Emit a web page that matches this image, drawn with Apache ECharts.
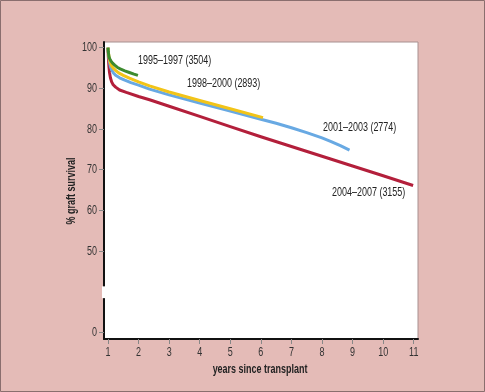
<!DOCTYPE html>
<html><head><meta charset="utf-8">
<script src="https://cdn.jsdelivr.net/npm/echarts@6/dist/echarts.min.js"></script>
<style>html,body{margin:0;padding:0;background:#e4bbb7;}#c{width:485px;height:392px;}</style>
</head><body><div id="c"></div>
<script>
// ---- data ----
const seriesNames = ['1995–1997 (3504)', '1998–2000 (2893)', '2001–2003 (2774)', '2004–2007 (3155)'];
const xTicks = [1,2,3,4,5,6,7,8,9,10,11];
const yTickLabels = [0,50,60,70,80,90,100];
const xAxisName = 'years since transplant';
const yAxisName = '% graft survival';

const greenX = [1, 1.01, 1.03, 1.06, 1.1, 1.15, 1.22, 1.3, 1.4, 1.55, 1.7, 1.85, 1.98];
const greenY = [100, 99, 97.8, 97.2, 96.7, 96.2, 95.7, 95.2, 94.8, 94.3, 93.9, 93.5, 93.2];

const yellowX = [1, 1.02, 1.05, 1.08, 1.12, 1.18, 1.25, 1.35, 1.5, 1.7, 2, 2.36, 3, 4, 5, 6.07];
const yellowY = [100, 98.5, 97, 96.2, 95.5, 94.9, 94.4, 93.8, 93.2, 92.5, 91.6, 90.6, 89.1, 87.0, 85.0, 82.8];

const blueX = [1, 1.02, 1.05, 1.08, 1.12, 1.18, 1.25, 1.38, 1.55, 1.75, 2, 2.36, 3, 4, 5, 6, 6.5, 7, 7.5, 8, 8.3, 8.6, 8.9];
const blueY = [100, 98.3, 96.5, 95.3, 94.5, 93.8, 93.2, 92.6, 92.0, 91.4, 90.8, 89.8, 88.4, 86.4, 84.4, 82.4, 81.4, 80.3, 79.1, 77.8, 76.9, 75.9, 74.8];

const redX = [1, 1.01, 1.03, 1.05, 1.08, 1.12, 1.17, 1.25, 1.38, 1.6, 2, 2.36, 3, 4, 5, 6, 7, 8, 9, 10, 10.98];
const redY = [100, 98, 95.5, 93.9, 92.6, 91.6, 90.9, 90.3, 89.6, 89.0, 88.0, 87.2, 85.6, 83.1, 80.6, 78.1, 75.7, 73.3, 70.9, 68.5, 66.1];

// broken axis: value 0 is drawn at axis position 30, values >= 50 as is
const toAxis = v => (v < 50 ? 30 + v : v);
const pairs = (xs, ys) => xs.map((x, i) => [x, toAxis(ys[i])]);

const FONT = '"Liberation Sans", Arial, sans-serif';
const SX = 0.69;
const FS = 13;
const colors = ['#3d8b2f', '#f2c418', '#68a9e3', '#b31f3b'];
const dataSets = [pairs(greenX, greenY), pairs(yellowX, yellowY), pairs(blueX, blueY), pairs(redX, redY)];

const chart = echarts.init(document.getElementById('c'), null, {renderer: 'canvas'});

const labelPos = [
  {x: 138, y: 60},
  {x: 187, y: 83},
  {x: 323, y: 127},
  {x: 332, y: 192}
];

chart.setOption({
  backgroundColor: '#e4bbb7',
  animation: false,
  grid: {left: 104, right: 67, top: 42, bottom: 53, show: true, backgroundColor: '#ffffff', borderColor: '#a89090', borderWidth: 1},
  xAxis: {
    type: 'value', min: 0.87, max: 11.14,
    axisLine: {show: true, lineStyle: {color: '#111', width: 2}},
    axisTick: {show: true, customValues: xTicks, length: 5, lineStyle: {color: '#888'}},
    axisLabel: {show: false},
    splitLine: {show: false}
  },
  yAxis: {
    type: 'value', min: 28.35, max: 101.4,
    axisLine: {show: true, lineStyle: {color: '#111', width: 2}},
    axisTick: {show: true, customValues: yTickLabels.map(toAxis), length: 5, lineStyle: {color: '#888'}},
    axisLabel: {show: false},
    splitLine: {show: false}
  },
  series: dataSets.map((d, i) => ({
    type: 'line', name: seriesNames[i], data: d, showSymbol: false, symbol: 'none',
    smooth: false,
    lineStyle: {color: colors[i], width: 3, cap: 'butt', join: 'round'}, z: 2 + (3 - i)
  }))
});

const px = (x, y) => chart.convertToPixel({gridIndex: 0}, [x, y]);
const g = [];
const txt = (x, y, text, opts) => ({
  type: 'text', x: x, y: y, scaleX: SX, z: 50,
  style: Object.assign({text: text, fontFamily: FONT, fontSize: FS, fill: '#333', align: 'center', verticalAlign: 'middle'}, opts || {})
});
xTicks.forEach(t => { const p = px(t, 50); g.push(txt(p[0], 352, String(t))); });
yTickLabels.forEach(t => { const p = px(1, toAxis(t)); g.push(txt(97, p[1], String(t), {align: 'right'})); });
labelPos.forEach((p, i) => g.push(txt(p.x, p.y, seriesNames[i], {align: 'left', fill: '#222'})));
g.push(txt(260, 369, xAxisName, {fontWeight: 'bold', fill: '#222'}));
const yn = txt(71, 191, yAxisName, {fontWeight: 'bold', fill: '#222'});
yn.rotation = Math.PI / 2;
g.push(yn);
// gap in the vertical axis line, placed through the axis scale
const pTop = px(0.87, 41.3), pBot = px(0.87, 38.4);
g.push({type: 'rect', shape: {x: pTop[0] - 2, y: pTop[1], width: 4, height: pBot[1] - pTop[1]}, style: {fill: '#ffffff'}, z: 100});
g.push({type: 'rect', shape: {x: 0.5, y: 0.5, width: 484, height: 391}, style: {fill: null, stroke: '#8a6e6e', lineWidth: 1}, z: 100});
chart.setOption({graphic: g});
</script></body></html>
